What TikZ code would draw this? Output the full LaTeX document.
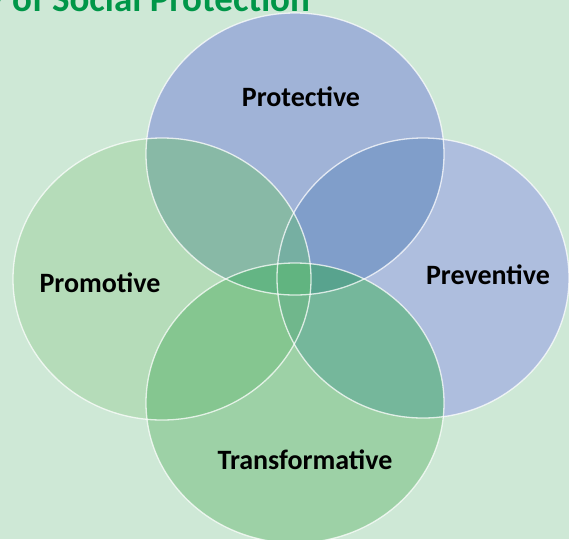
\documentclass[tikz,border=0pt]{standalone}
\usepackage{fontspec}
\setmainfont{Carlito}
\definecolor{bgc}{RGB}{206,232,214}
\definecolor{Tc}{RGB}{160,179,215}
\definecolor{Rc}{RGB}{174,190,222}
\definecolor{Lc}{RGB}{181,220,185}
\definecolor{Bc}{RGB}{157,209,166}
\definecolor{TLc}{RGB}{136,185,166}
\definecolor{TRc}{RGB}{128,158,202}
\definecolor{LBc}{RGB}{133,198,144}
\definecolor{RBc}{RGB}{117,183,155}
\definecolor{TLRc}{RGB}{118,175,162}
\definecolor{TLBc}{RGB}{100,181,132}
\definecolor{TRBc}{RGB}{88,163,142}
\definecolor{LRBc}{RGB}{112,183,140}
\definecolor{TLRBc}{RGB}{97,180,128}
\definecolor{titlec}{RGB}{0,150,72}
\def\ellT{(295,154) ellipse [x radius=149pt, y radius=141pt]}
\def\ellR{(423,278) ellipse [x radius=146pt, y radius=140pt]}
\def\ellL{(162,279) ellipse [x radius=149pt, y radius=141pt]}
\def\ellB{(295,403) ellipse [x radius=149pt, y radius=140pt]}
\tikzset{
  lbl/.style={font=\fontsize{28}{31}\selectfont\bfseries, text=black, inner sep=0pt, anchor=base},
  rim/.style={draw=white, draw opacity=0.75, line width=1.3pt}
}
\begin{document}
\begin{tikzpicture}[x=1pt,y=-1pt]
\useasboundingbox (0,0) rectangle (569,539);
\fill[bgc] (0,0) rectangle (569,539);
% single circles
\fill[Tc] \ellT;
\fill[Rc] \ellR;
\fill[Lc] \ellL;
\fill[Bc] \ellB;
% pairs
\begin{scope}\clip \ellT; \fill[TLc] \ellL; \end{scope}
\begin{scope}\clip \ellT; \fill[TRc] \ellR; \end{scope}
\begin{scope}\clip \ellL; \fill[LBc] \ellB; \end{scope}
\begin{scope}\clip \ellR; \fill[RBc] \ellB; \end{scope}
% triples
\begin{scope}\clip \ellT; \clip \ellL; \fill[TLRc] \ellR; \end{scope}
\begin{scope}\clip \ellT; \clip \ellL; \fill[TLBc] \ellB; \end{scope}
\begin{scope}\clip \ellT; \clip \ellR; \fill[TRBc] \ellB; \end{scope}
\begin{scope}\clip \ellL; \clip \ellR; \fill[LRBc] \ellB; \end{scope}
% all four
\begin{scope}\clip \ellT; \clip \ellL; \clip \ellR; \fill[TLRBc] \ellB; \end{scope}
% rims
\path[rim] \ellT;
\path[rim] \ellR;
\path[rim] \ellL;
\path[rim] \ellB;
% texts
\node[anchor=base west, inner sep=0pt, text=titlec, font=\fontsize{37}{41}\selectfont\bfseries] (title) at (-14,11) {y of Social Protection};
\node[lbl] (prot) at (301,106) {Protective};
\node[lbl] (prev) at (488,284) {Preventive};
\node[lbl] (prom) at (100,292) {Promotive};
\node[lbl] (trans) at (305,469) {Transformative};
\end{tikzpicture}
\end{document}
